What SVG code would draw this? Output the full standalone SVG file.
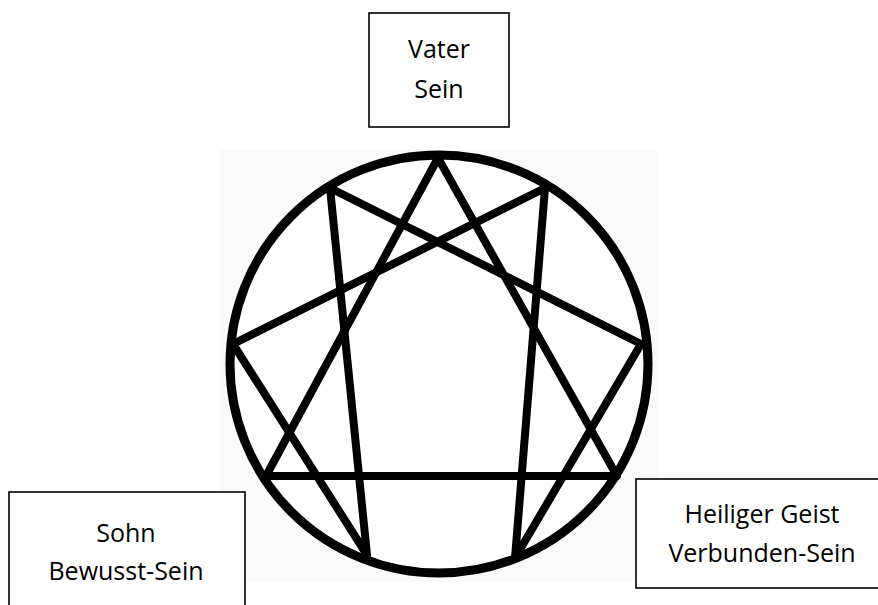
<svg xmlns="http://www.w3.org/2000/svg" width="878" height="605" viewBox="0 0 878 605">
<style>
.box{fill:#fff;stroke:#000;stroke-width:1.6}
.lbl{font-family:"Open Sans","Liberation Sans",sans-serif;font-size:25px;fill:#000;text-anchor:middle}
.ln{stroke:#000;stroke-width:8;stroke-linecap:round;stroke-linejoin:round;fill:none}
</style>
<rect width="878" height="605" fill="#fff"/>
<g id="enneagram">
<rect x="220" y="150" width="437" height="432" fill="#fafafa"/>
<circle cx="439" cy="364" r="209" fill="#fff" stroke="#000" stroke-width="9"/>
</g>
<g id="connectors">
<polyline class="ln" points="438,158 617,476 266,476 438,158"/>
<polyline class="ln" points="545,188 515,558 641,344 330,188 367,555 233,344 545,188"/>
</g>
<g id="vater">
<rect class="box" x="369" y="13" width="140" height="114"/>
<text class="lbl" x="439" y="58">Vater</text>
<text class="lbl" x="439" y="98">Sein</text>
</g>
<g id="sohn">
<rect class="box" x="9" y="492" width="236" height="130"/>
<text class="lbl" x="126" y="542">Sohn</text>
<text class="lbl" x="126" y="580">Bewusst-Sein</text>
</g>
<g id="geist">
<rect class="box" x="636" y="479" width="260" height="109"/>
<text class="lbl" x="762" y="523">Heiliger Geist</text>
<text class="lbl" x="762" y="562">Verbunden-Sein</text>
</g>
</svg>
